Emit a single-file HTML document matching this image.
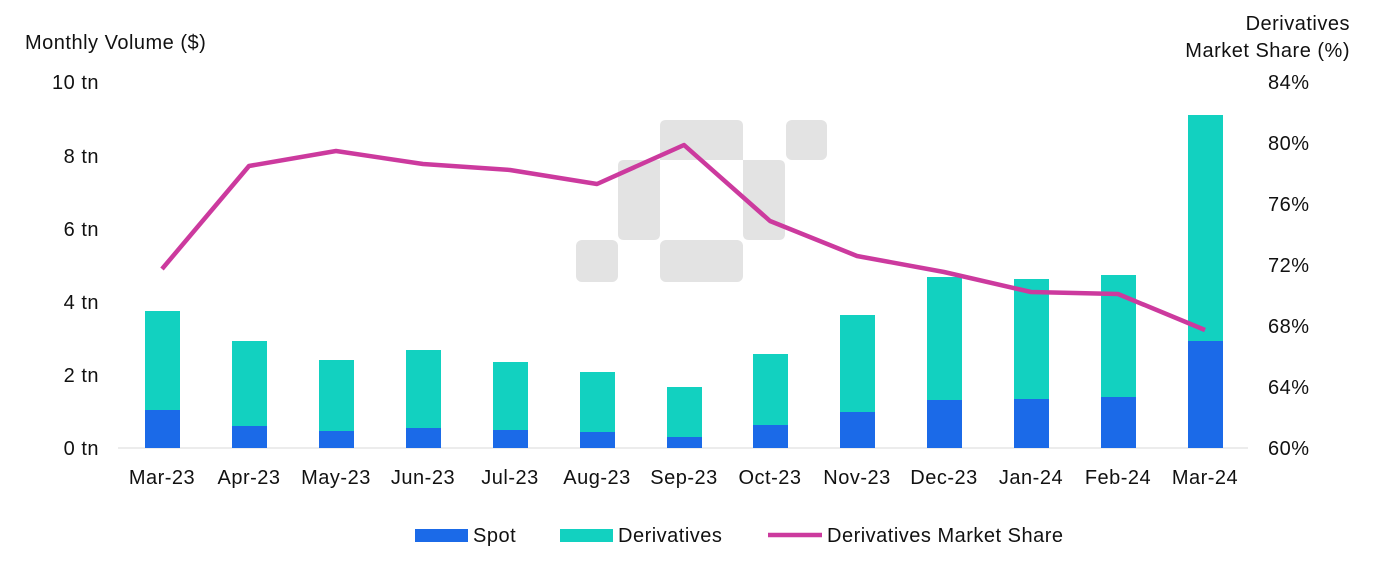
<!DOCTYPE html>
<html><head><meta charset="utf-8"><style>
body{margin:0;background:#fff;}
svg text{font-family:"Liberation Sans",sans-serif;fill:#111;letter-spacing:0.5px;}
</style></head><body>
<svg width="1384" height="568" viewBox="0 0 1384 568" xmlns="http://www.w3.org/2000/svg">
<g fill="#e3e3e3">
<path d="M666,120 H737 Q743,120 743,126 V160 H779 Q785,160 785,166 V234 Q785,240 779,240 H749 Q743,240 743,234 V160 H660 V234 Q660,240 654,240 H624 Q618,240 618,234 V166 Q618,160 624,160 H660 V126 Q660,120 666,120 Z"/>
<rect x="786" y="120" width="41" height="40" rx="6"/>
<rect x="576" y="240" width="42" height="42" rx="6"/>
<rect x="660" y="240" width="83" height="42" rx="6"/>
</g>
<g font-size="20">
<text x="25" y="49">Monthly Volume ($)</text>
<text x="99" y="89" text-anchor="end">10 tn</text>
<text x="99" y="163" text-anchor="end">8 tn</text>
<text x="99" y="236" text-anchor="end">6 tn</text>
<text x="99" y="309" text-anchor="end">4 tn</text>
<text x="99" y="382" text-anchor="end">2 tn</text>
<text x="99" y="455" text-anchor="end">0 tn</text>
<text x="1350" y="30" text-anchor="end">Derivatives</text>
<text x="1350" y="57" text-anchor="end">Market Share (%)</text>
<text x="1268" y="89">84%</text>
<text x="1268" y="150">80%</text>
<text x="1268" y="211">76%</text>
<text x="1268" y="272">72%</text>
<text x="1268" y="333">68%</text>
<text x="1268" y="394">64%</text>
<text x="1268" y="455">60%</text>
</g>
<line x1="118" y1="448" x2="1248" y2="448" stroke="#d9d9d9" stroke-width="1"/>
<g fill="#1b6ae8">
<rect x="145" y="410" width="35" height="38"/><rect x="232" y="426" width="35" height="22"/><rect x="319" y="431" width="35" height="17"/><rect x="406" y="428" width="35" height="20"/><rect x="493" y="430" width="35" height="18"/><rect x="580" y="432" width="35" height="16"/><rect x="667" y="437" width="35" height="11"/><rect x="753" y="425" width="35" height="23"/><rect x="840" y="412" width="35" height="36"/><rect x="927" y="400" width="35" height="48"/><rect x="1014" y="399" width="35" height="49"/><rect x="1101" y="397" width="35" height="51"/><rect x="1188" y="341" width="35" height="107"/>
</g>
<g fill="#12d1c0">
<rect x="145" y="311" width="35" height="99"/><rect x="232" y="341" width="35" height="85"/><rect x="319" y="360" width="35" height="71"/><rect x="406" y="350" width="35" height="78"/><rect x="493" y="362" width="35" height="68"/><rect x="580" y="372" width="35" height="60"/><rect x="667" y="387" width="35" height="50"/><rect x="753" y="354" width="35" height="71"/><rect x="840" y="315" width="35" height="97"/><rect x="927" y="277" width="35" height="123"/><rect x="1014" y="279" width="35" height="120"/><rect x="1101" y="275" width="35" height="122"/><rect x="1188" y="115" width="35" height="226"/>
</g>
<polyline fill="none" stroke="#cc3a9e" stroke-width="4.5" stroke-linejoin="round" points="162,269 249,166 336,151 423,164 510,170 597,184 684,145 770,221 857,256 944,272 1031,292 1118,294 1205,330"/>
<g font-size="20" text-anchor="middle">
<text x="162" y="484">Mar-23</text><text x="249" y="484">Apr-23</text><text x="336" y="484">May-23</text><text x="423" y="484">Jun-23</text><text x="510" y="484">Jul-23</text><text x="597" y="484">Aug-23</text><text x="684" y="484">Sep-23</text><text x="770" y="484">Oct-23</text><text x="857" y="484">Nov-23</text><text x="944" y="484">Dec-23</text><text x="1031" y="484">Jan-24</text><text x="1118" y="484">Feb-24</text><text x="1205" y="484">Mar-24</text>
</g>
<rect x="415" y="529" width="53" height="13" fill="#1b6ae8"/>
<text x="473" y="542" font-size="20">Spot</text>
<rect x="560" y="529" width="53" height="13" fill="#12d1c0"/>
<text x="618" y="542" font-size="20">Derivatives</text>
<line x1="768" y1="535" x2="822" y2="535" stroke="#cc3a9e" stroke-width="4.5"/>
<text x="827" y="542" font-size="20">Derivatives Market Share</text>
</svg>
</body></html>
